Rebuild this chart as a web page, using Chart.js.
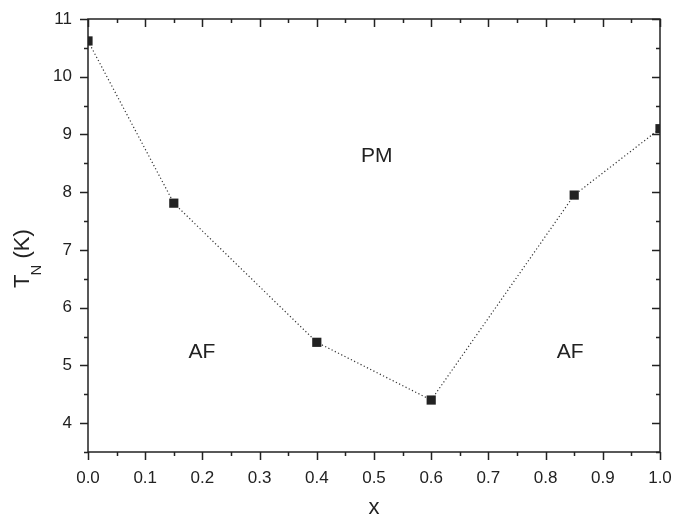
<!DOCTYPE html>
<html>
<head>
<meta charset="utf-8">
<script src="https://cdn.jsdelivr.net/npm/chart.js@4.4.1/dist/chart.umd.min.js"></script>
<style>
  html, body { margin: 0; padding: 0; background: #fff; }
  #wrap { width: 673px; height: 517px; }
</style>
</head>
<body>
<div id="wrap"><canvas id="phase-chart"></canvas></div>
<script>
// composition x and Neel temperature
const xValues = [0, 0.15, 0.4, 0.6, 0.85, 1.0];
const tnValues = [10.62, 7.81, 5.40, 4.40, 7.95, 9.10];

// phase labels inside the plot
const phaseNames = ["PM", "AF", "AF"];
const phaseX = [0.505, 0.199, 0.843];
const phaseY = [8.63, 5.22, 5.22];

const xTicksMajor = [0, 0.1, 0.2, 0.3, 0.4, 0.5, 0.6, 0.7, 0.8, 0.9, 1.0];
const yTicksMajor = [4, 5, 6, 7, 8, 9, 10, 11];

const FONT = "'Liberation Sans', Arial, sans-serif";
const INK = "#222";

function noOverhang(scale) {
    scale.paddingTop = 0;
    scale.paddingBottom = 0;
    scale.paddingLeft = 0;
    scale.paddingRight = 0;
}

// frame, tick marks, phase labels and the y title
const framePlugin = {
    id: 'frame',
    afterDraw(chart) {
        const ctx = chart.ctx;
        const a = chart.chartArea;
        const xs = chart.scales.x, ys = chart.scales.y;
        ctx.save();
        ctx.strokeStyle = INK;
        ctx.lineWidth = 1.5;
        ctx.strokeRect(a.left, a.top, a.right - a.left, a.bottom - a.top);

        ctx.beginPath();
        for (let i = 0; i <= 20; i++) {
            const v = i * 0.05;
            const px = Math.round(xs.getPixelForValue(v)) + 0.5;
            const len = (i % 2 === 0) ? 8 : 4;
            ctx.moveTo(px, a.bottom); ctx.lineTo(px, a.bottom + len);   // bottom, outward
            ctx.moveTo(px, a.top); ctx.lineTo(px, a.top + len);         // top, inward
        }
        for (let i = 7; i <= 22; i++) {
            const v = i * 0.5;
            const py = Math.round(ys.getPixelForValue(v)) + 0.5;
            const len = (i % 2 === 0) ? 8 : 4;
            ctx.moveTo(a.left, py); ctx.lineTo(a.left - len, py);       // left, outward
            ctx.moveTo(a.right, py); ctx.lineTo(a.right - len, py);     // right, inward
        }
        ctx.stroke();

        ctx.fillStyle = INK;
        ctx.font = "21px " + FONT;
        ctx.textAlign = 'center';
        ctx.textBaseline = 'middle';
        for (let i = 0; i < phaseNames.length; i++) {
            ctx.fillText(phaseNames[i], xs.getPixelForValue(phaseX[i]), ys.getPixelForValue(phaseY[i]));
        }

        // y axis title: T_N (K), rotated, starting at y=288
        ctx.translate(29, 288);
        ctx.rotate(-Math.PI / 2);
        ctx.textAlign = 'left';
        ctx.textBaseline = 'alphabetic';
        ctx.font = "22px " + FONT;
        const tW = ctx.measureText("T").width;
        ctx.fillText("T", 0, 0);
        ctx.font = "15px " + FONT;
        const nW = ctx.measureText("N").width;
        ctx.fillText("N", tW - 1, 12);
        ctx.font = "22px " + FONT;
        ctx.fillText(" (K)", tW + nW - 1, 0);
        ctx.restore();
    }
};

new Chart(document.getElementById("phase-chart"), {
    type: 'scatter',
    data: {
        datasets: [
            {
                data: xValues.map((x, i) => ({ x: x, y: tnValues[i] })),
                showLine: true,
                borderColor: "#333",
                borderWidth: 1.2,
                borderDash: [1.2, 2.4],
                pointStyle: 'rect',
                pointRadius: 6.5,
                pointHoverRadius: 6.5,
                pointBackgroundColor: INK,
                pointBorderColor: INK,
                pointBorderWidth: 0
            }
        ]
    },
    options: {
        responsive: true,
        maintainAspectRatio: false,
        animation: false,
        layout: { padding: { left: 0, right: 13, top: 19, bottom: 0 } },
        plugins: {
            legend: { display: false },
            tooltip: { enabled: false }
        },
        scales: {
            x: {
                type: 'linear',
                min: 0,
                max: 1,
                afterFit(scale) { scale.height = 65; noOverhang(scale); },
                afterBuildTicks(scale) { scale.ticks = xTicksMajor.map(v => ({ value: v })); },
                grid: { display: false, drawTicks: false },
                border: { display: false },
                ticks: {
                    padding: 16,
                    color: INK,
                    font: { family: FONT, size: 17 },
                    callback: v => v.toFixed(1)
                },
                title: {
                    display: true,
                    text: "x",
                    color: INK,
                    font: { family: FONT, size: 22 },
                    padding: { top: 14, bottom: -4 }
                }
            },
            y: {
                type: 'linear',
                min: 3.5,
                max: 11,
                afterFit(scale) { scale.width = 88; noOverhang(scale); },
                afterBuildTicks(scale) { scale.ticks = yTicksMajor.map(v => ({ value: v })); },
                grid: { display: false, drawTicks: false },
                border: { display: false },
                ticks: {
                    padding: 16,
                    color: INK,
                    font: { family: FONT, size: 17 }
                }
            }
        }
    },
    plugins: [framePlugin]
});
</script>
</body>
</html>
